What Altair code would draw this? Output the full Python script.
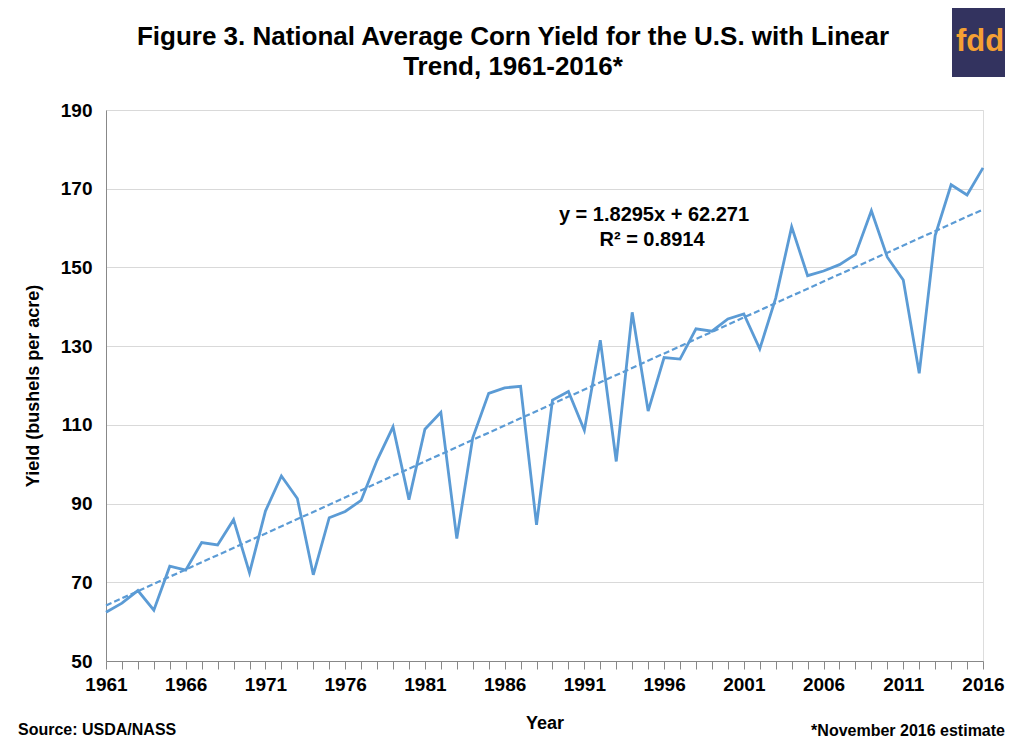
import altair as alt
import pandas as pd

years = list(range(1961, 2017))
yields = [62.4, 64.7, 67.9, 62.9, 74.1, 73.1, 80.1, 79.5, 85.9, 72.4,
          88.1, 97.0, 91.3, 71.9, 86.4, 88.0, 90.8, 101.0, 109.5, 91.0,
          108.9, 113.2, 81.1, 106.7, 118.0, 119.4, 119.8, 84.6, 116.3, 118.5,
          108.6, 131.5, 100.7, 138.6, 113.5, 127.1, 126.7, 134.4, 133.8, 136.9,
          138.2, 129.3, 142.2, 160.3, 147.9, 149.1, 150.7, 153.3, 164.4, 152.6,
          146.8, 123.1, 158.1, 171.0, 168.4, 175.3]
trend_slope = 1.8295
trend_intercept = 62.271
trend_years = [1961, 2016]
trend_vals = [trend_slope * (y - 1960) + trend_intercept for y in trend_years]
y_ticks = [50, 70, 90, 110, 130, 150, 170, 190]
title_lines = ["Figure 3. National Average Corn Yield for the U.S. with Linear", "Trend, 1961-2016*"]
eq_lines = ["y = 1.8295x + 62.271", "R² = 0.8914"]

df = pd.DataFrame({"Year": years, "Yield": yields})
tdf = pd.DataFrame({"Year": trend_years, "Yield": trend_vals})

W, H = 877, 551
BLUE = "#5B9BD5"
FONT = "Liberation Sans"

xs = alt.X("Year:Q", scale=alt.Scale(domain=[1961, 2016], nice=False, zero=False),
           axis=alt.Axis(values=years, labelExpr="(datum.value - 1961) % 5 == 0 ? datum.label : ''",
                         format="d", title="Year", grid=False, domain=True, domainColor="#888888",
                         tickColor="#888888", tickSize=8, labelFont=FONT, labelFontSize=19,
                         labelFontWeight="bold", labelColor="#000000", labelPadding=6,
                         labelOverlap=False, labelFlush=False,
                         titleFont=FONT, titleFontSize=18, titleFontWeight="bold", titleColor="#000000",
                         titlePadding=20))
ys = alt.Y("Yield:Q", scale=alt.Scale(domain=[50, 190], nice=False, zero=False),
           axis=alt.Axis(values=y_ticks, title="Yield (bushels per acre)", grid=True, gridColor="#D9D9D9",
                         domain=True, domainColor="#888888", ticks=False, labelPadding=14,
                         labelFont=FONT, labelFontSize=19, labelFontWeight="bold", labelColor="#000000",
                         titleFont=FONT, titleFontSize=18, titleFontWeight="bold", titleColor="#000000",
                         titlePadding=18))

one = pd.DataFrame({"a": [0]})

def txt(s, x, y, size, align="center", color="#000000", font=FONT):
    return alt.Chart(one).mark_text(text=s, font=font, fontSize=size, fontWeight="bold", color=color,
                                    align=align, baseline="middle").encode(x=alt.value(x), y=alt.value(y))

line = alt.Chart(df).mark_line(color=BLUE, strokeWidth=2.8).encode(x=xs, y=ys)
trend = alt.Chart(tdf).mark_line(color=BLUE, strokeWidth=2.2, strokeDash=[6, 3]).encode(x=xs, y=ys)

eq1 = txt(eq_lines[0], 548, 105, 20)
eq2 = txt(eq_lines[1], 546, 130, 20)
t1 = txt(title_lines[0], 407, -73, 26)
t2 = txt(title_lines[1], 407, -43, 26)

logo = alt.Chart(one).mark_rect(color="#33335F").encode(
    x=alt.value(846), x2=alt.value(912), y=alt.value(-105), y2=alt.value(-33))
logo_txt = txt("fdd", 850, -68, 31, align="left", color="#F5A033")

src = txt("Source: USDA/NASS", -88, 620, 16, align="left")
note = txt("*November 2016 estimate", 899, 621, 16, align="right")

border = alt.Chart(one).mark_rect(fill=None, stroke="#D9D9D9", strokeWidth=1.5).encode(
    x=alt.value(-99), x2=alt.value(960), y=alt.value(-103), y2=alt.value(700))

chart = alt.layer(border, line, trend, eq1, eq2, t1, t2, logo, logo_txt, src, note).properties(
    width=W, height=H,
    autosize=alt.AutoSizeParams(type="none"),
    padding={"left": 98, "top": 102, "right": 22, "bottom": 81},
).configure_view(stroke=None).configure(background="white")

chart.save("out.html", embed_options={"renderer": "svg", "actions": False})
